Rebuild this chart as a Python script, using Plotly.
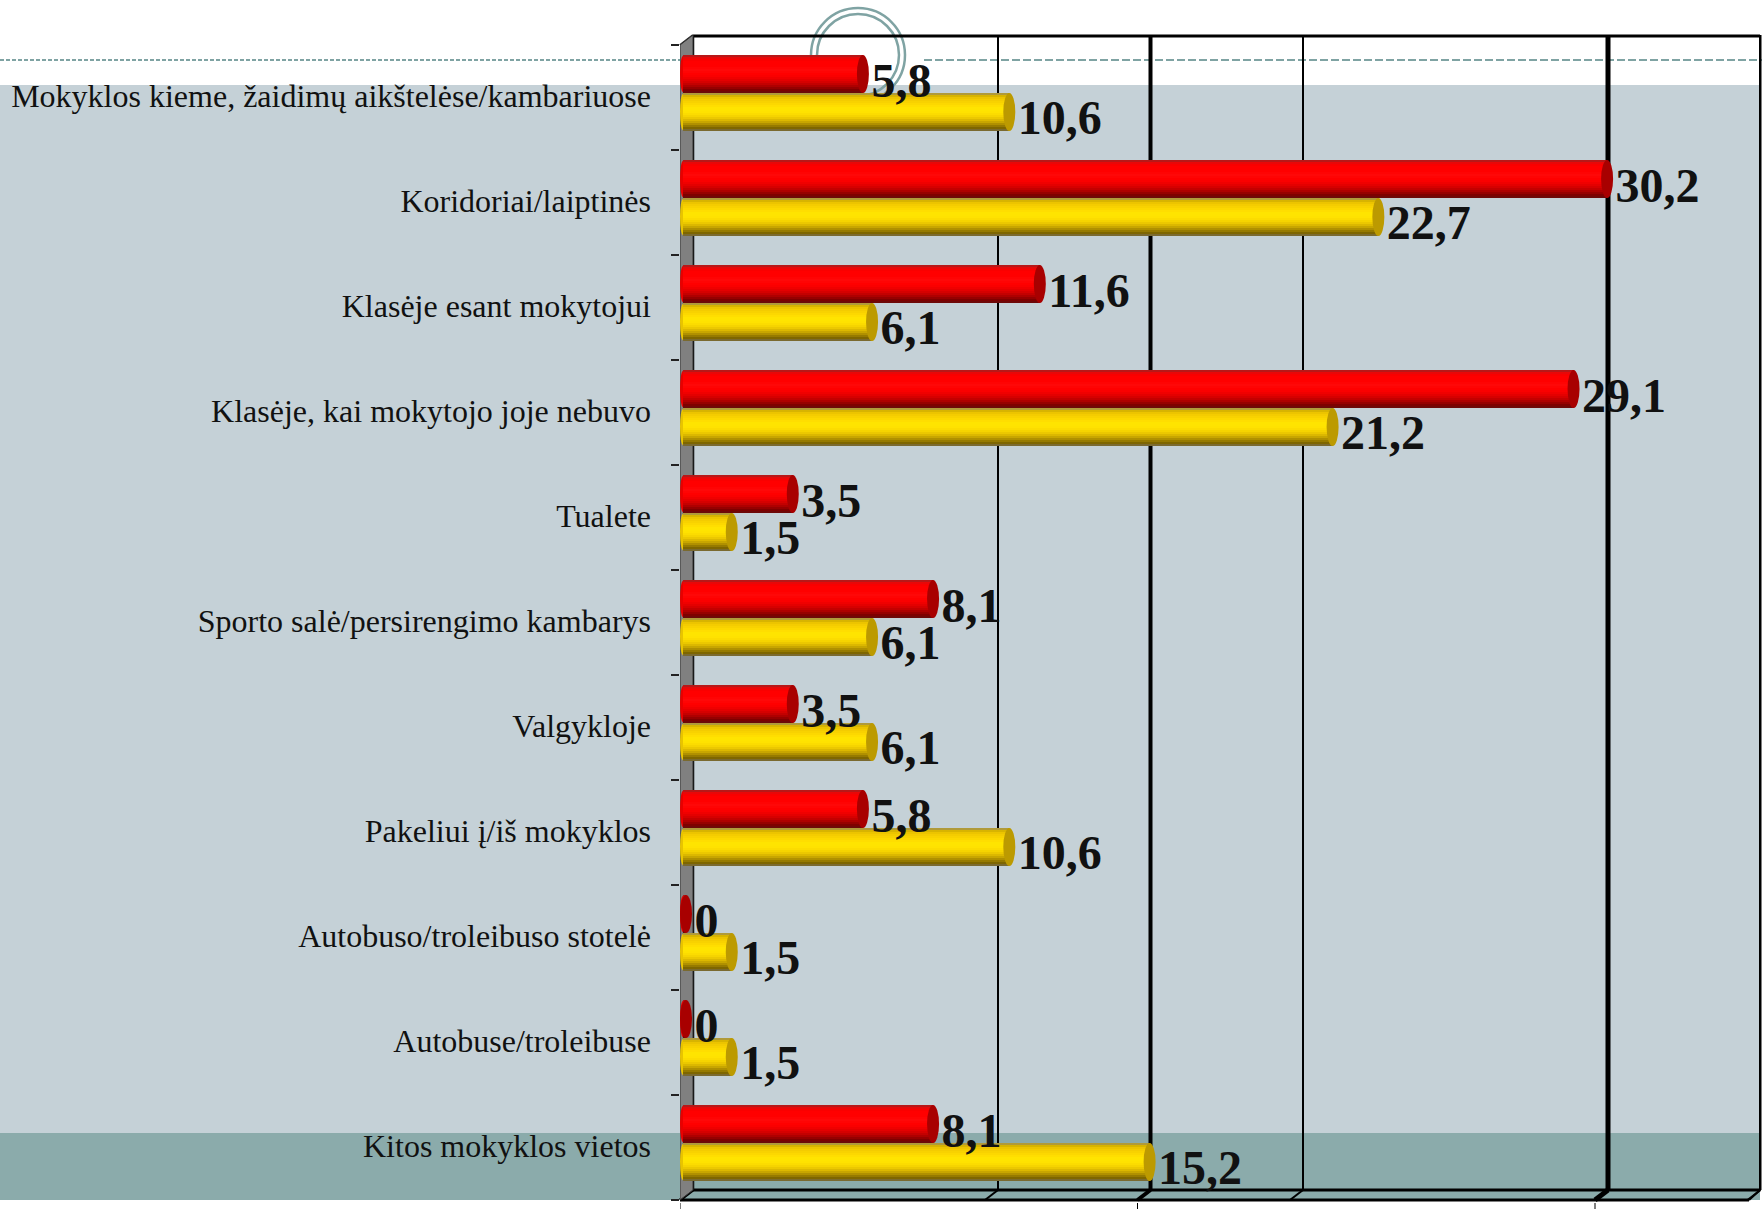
import plotly.graph_objects as go

categories = ["Mokyklos kieme, žaidimų aikštelėse/kambariuose", "Koridoriai/laiptinės",
              "Klasėje esant mokytojui", "Klasėje, kai mokytojo joje nebuvo", "Tualete",
              "Sporto salė/persirengimo kambarys", "Valgykloje", "Pakeliui į/iš mokyklos",
              "Autobuso/troleibuso stotelė", "Autobuse/troleibuse", "Kitos mokyklos vietos"]
red_values = [5.8, 30.2, 11.6, 29.1, 3.5, 8.1, 3.5, 5.8, 0, 0, 8.1]
yellow_values = [10.6, 22.7, 6.1, 21.2, 1.5, 6.1, 6.1, 10.6, 1.5, 1.5, 15.2]
grid_values = [10, 15, 20, 30, 35]
grid_widths = [2, 4, 2, 5, 2]
stub_values = [0, 15, 30]

W, H = 1762, 1209
PX_X = 30.5        # pixels per unit on x
PX_Y = 105.0       # pixels per category
X0 = 686.0         # pixel of value 0 at the bar's mid depth
Y0 = 97.5          # pixel of the first category centre
L, R, T, B = 680, 1762, 35, 1209

def dx(p): return (p - X0) / PX_X
def dy(p): return (p - Y0) / PX_Y
def py(p): return 1 - (p - T) / (B - T)
def px(p): return (p - L) / (R - L)

RED = ["#b81818", "#e80808", "#fa0000", "#ff0000", "#ff0000", "#ff0000", "#ff0404", "#ff0808", "#ff0404", "#ff0000",
       "#fa0000", "#f00000", "#e40000", "#d60000", "#c40000", "#ae0000", "#960000", "#7e0000", "#6e0808"]
YEL = ["#b09a3a", "#d8b400", "#ecc400", "#f4cc00", "#f8d200", "#fcd800", "#ffde00", "#ffe400", "#ffe400", "#ffe200",
       "#fcdc00", "#f6d400", "#ecc800", "#dcb800", "#c8a600", "#b09000", "#967a00", "#7e6600", "#7a6a30"]
STRIP = 2.0 / PX_Y

fig = go.Figure()
base = dx(683)
rows = list(range(len(categories)))

def add_cyl(values, shades, top_offset):
    for k, c in enumerate(shades):
        fig.add_trace(go.Bar(
            y=rows, x=[v - base for v in values], base=base, orientation="h",
            width=STRIP * 1.15, offset=top_offset + k * STRIP,
            marker=dict(color=c, line_width=0), hoverinfo="skip", showlegend=False))

red_top = -42.5 / PX_Y
yel_top = -4.5 / PX_Y
add_cyl(red_values, RED, red_top)
add_cyl(yellow_values, YEL, yel_top)

def labels(values, y_off):
    fig.add_trace(go.Scatter(
        x=[v + 8.5 / PX_X for v in values], y=[r + y_off / PX_Y for r in rows],
        mode="text", text=[str(v).replace(".", ",") for v in values],
        textposition="middle right",
        textfont=dict(family="Liberation Serif", size=48, color="#111111", weight="bold"),
        hoverinfo="skip", showlegend=False, cliponaxis=False))

labels(red_values, -13)
labels(yellow_values, 24)

shapes = []
def rect(x0, y0, x1, y1, color):
    shapes.append(dict(type="rect", xref="paper", yref="paper", x0=px(x0), x1=px(x1), y0=py(y0), y1=py(y1),
                       fillcolor=color, line_width=0, layer="below"))
def pline(x0, y0, x1, y1, color, w, dash=None):
    shapes.append(dict(type="line", xref="paper", yref="paper", x0=px(x0), x1=px(x1), y0=py(y0), y1=py(y1),
                       line=dict(color=color, width=w, dash=dash), layer="below"))

rect(0, 85, 1760, 1133, "#C5D1D7")
rect(0, 1133, 1760, 1200, "#8BABAB")
pline(0, 60, 680, 60, "#7FA3A3", 2, "4px,2px")
pline(924, 60, 1762, 60, "#7FA3A3", 2, "8px,3px")
for r in (47, 41):
    shapes.append(dict(type="circle", xref="paper", yref="paper", x0=px(858 - r), x1=px(858 + r),
                       y0=py(55 - r), y1=py(55 + r), line=dict(color="#7FA3A3", width=2.5), layer="below"))

# left wall
shapes.append(dict(type="path", xref="x", yref="y", layer="below", fillcolor="#808080",
                   line=dict(color="#333333", width=1),
                   path=f"M {dx(680)} {dy(45)} L {dx(693)} {dy(35)} L {dx(693)} {dy(1190)} L {dx(680)} {dy(1200)} Z"))
# frame
pline(693, 36, 693, 1190, "black", 2.5)
pline(680, 45, 693, 35, "#222222", 2)
pline(693, 36, 1760, 36, "black", 3)
pline(693, 1190, 1760, 1190, "black", 3)
pline(680, 1200, 1749, 1200, "black", 3)
pline(1760, 36, 1760, 1190, "black", 2)
pline(680, 1200, 693, 1190, "black", 3)
pline(1760, 1190, 1749, 1200, "black", 2)

# gridlines run on the back wall, then down the floor
for v, w in zip(grid_values, grid_widths):
    xb = v + 7 / PX_X
    xf = v - 6 / PX_X
    shapes.append(dict(type="line", xref="x", yref="y", x0=xb, x1=xb, y0=dy(35), y1=dy(1190),
                       line=dict(color="black", width=w), layer="below"))
    shapes.append(dict(type="line", xref="x", yref="y", x0=xb, x1=xf, y0=dy(1190), y1=dy(1200),
                       line=dict(color="black", width=w), layer="below"))
for v in stub_values:
    xf = v - 6 / PX_X
    shapes.append(dict(type="line", xref="x", yref="y", x0=xf, x1=xf, y0=dy(1203), y1=dy(1209),
                       line=dict(color="black", width=1), layer="below"))

# rounded start of each cylinder, hidden behind the bar except for its left edge
def starts(values, top, color):
    for r, v in zip(rows, values):
        shapes.append(dict(type="circle", xref="x", yref="y", x0=dx(680), x1=dx(686),
                           y0=r + top + 1 / PX_Y, y1=r + top + 37 / PX_Y, fillcolor=color,
                           line_width=0, layer="below"))
starts(red_values, red_top, "#e80000")
starts(yellow_values, yel_top, "#e8c400")

# cylinder end caps, centred on each value
def caps(values, top, color):
    for r, v in zip(rows, values):
        shapes.append(dict(type="circle", xref="x", yref="y", x0=v - 6 / PX_X, x1=v + 6 / PX_X,
                           y0=r + top, y1=r + top + 38 / PX_Y, fillcolor=color,
                           line_width=0, layer="above"))
caps(red_values, red_top, "#A80000")
caps(yellow_values, yel_top, "#BC9A00")

fig.update_layout(
    width=W, height=H, autosize=False,
    margin=dict(l=L, r=W - R, t=T, b=H - B, pad=0),
    paper_bgcolor="white", plot_bgcolor="rgba(0,0,0,0)",
    barmode="overlay", bargap=0, showlegend=False, shapes=shapes,
    xaxis=dict(range=[dx(L), dx(R)], visible=False, fixedrange=True),
    yaxis=dict(range=[dy(B), dy(T)], tickmode="array", tickvals=[r - 0.013 for r in rows], ticktext=categories,
               ticks="", showgrid=False, zeroline=False, showline=False,
               tickfont=dict(family="Liberation Serif", size=32, color="#111111"),
               ticklabelstandoff=28, fixedrange=True,
               minor=dict(tickmode="array", tickvals=[r - 0.5 for r in rows] + [10.5],
                          ticks="outside", ticklen=8, tickwidth=1.5, tickcolor="#222222", showgrid=False)),
)
fig.write_html("out.html", config={"displayModeBar": False},
               post_script="document.body.style.margin='0';document.body.style.overflow='hidden';")
